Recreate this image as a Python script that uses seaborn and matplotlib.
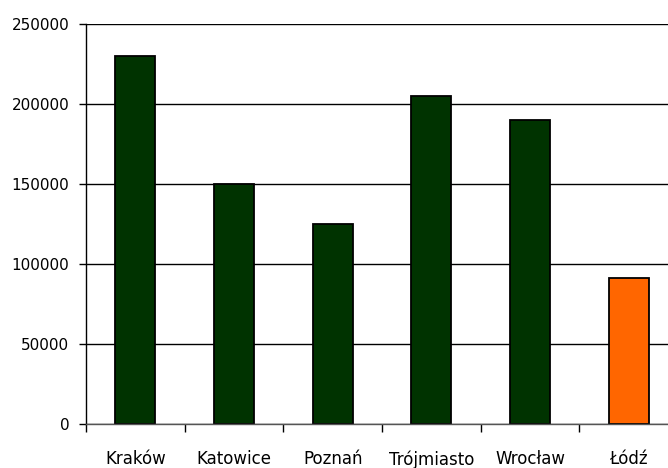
import matplotlib
matplotlib.use("Agg")
import matplotlib.pyplot as plt
import seaborn as sns
import pandas as pd
from matplotlib.ticker import FixedLocator

# Values per city
cities = ["Kraków", "Katowice", "Poznań", "Trójmiasto", "Wrocław", "Łódź"]
values = [230000, 150000, 125000, 205000, 190000, 91500]
bar_colors = ["#003300", "#003300", "#003300", "#003300", "#003300", "#FF6600"]
y_ticks = [0, 50000, 100000, 150000, 200000, 250000]

df = pd.DataFrame({"city": cities, "value": values})

sns.set_style("white")
plt.rcParams["font.family"] = ["DejaVu Sans"]

fig = plt.figure(figsize=(6.68, 4.68), dpi=100)
ax = fig.add_axes([86 / 668, 44 / 468, 592 / 668, 400 / 468])

sns.barplot(data=df, x="city", y="value", hue="city", palette=bar_colors,
            legend=False, width=0.405, edgecolor="black", linewidth=1.3,
            saturation=1, ax=ax, zorder=3)

ax.set_xlim(-0.5, len(cities) - 0.5)
ax.set_ylim(0, 250000)
ax.set_yticks(y_ticks)
ax.set_yticklabels([str(v) for v in y_ticks])

ax.yaxis.grid(True, color="black", linewidth=1, zorder=0)
ax.xaxis.grid(False)

# Category boundaries get the tick marks, labels sit centred between them
ax.xaxis.set_minor_locator(FixedLocator([i - 0.5 for i in range(len(cities) + 1)]))
ax.tick_params(axis="x", which="major", length=0, pad=19, labelsize=12,
               labelcolor="black")
ax.tick_params(axis="x", which="minor", length=6, width=1, color="black",
               direction="out", bottom=True)
ax.tick_params(axis="y", which="major", length=5, width=1, color="black",
               direction="out", left=True, pad=7, labelsize=11,
               labelcolor="black")

ax.set_xlabel("")
ax.set_ylabel("")

for side in ("top", "right"):
    ax.spines[side].set_visible(False)
ax.spines["left"].set_color("black")
ax.spines["bottom"].set_color("#555555")
ax.spines["left"].set_linewidth(1)
ax.spines["bottom"].set_linewidth(1)
ax.spines["left"].set_zorder(4)
ax.spines["bottom"].set_zorder(4)

fig.savefig("out.png", dpi=100)
